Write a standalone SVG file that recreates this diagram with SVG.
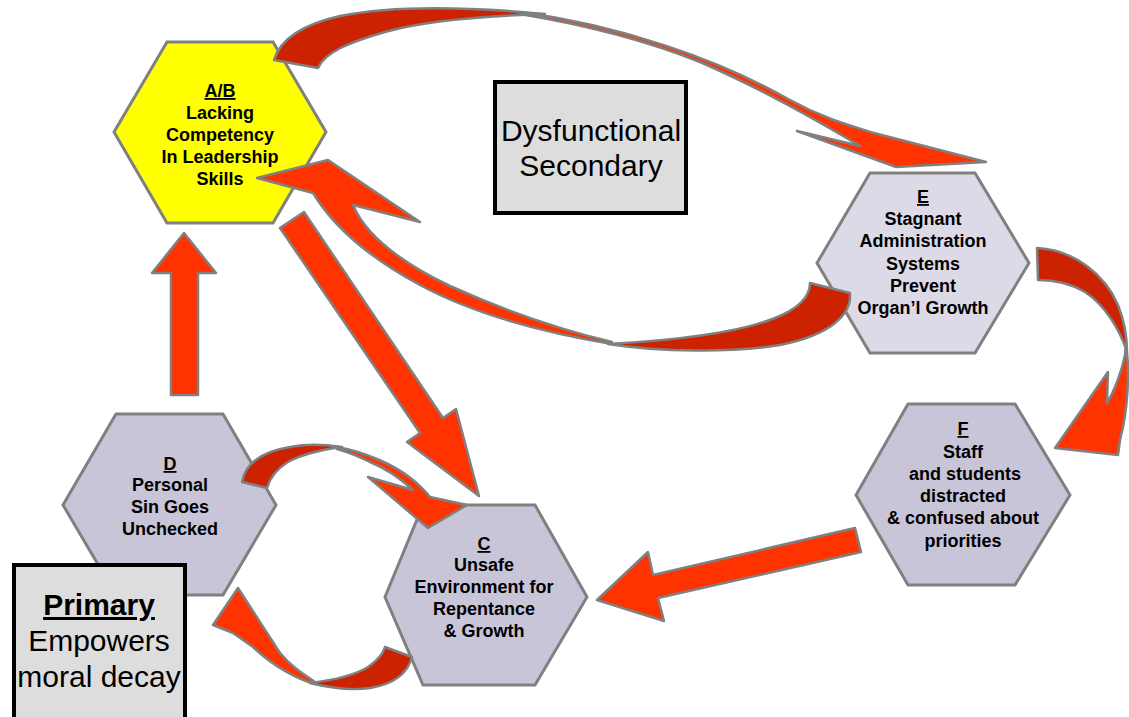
<svg xmlns="http://www.w3.org/2000/svg" width="1129" height="717" viewBox="0 0 1129 717">
<style>
.hex{stroke:#808080;stroke-width:3;stroke-linejoin:miter}
.lav{fill:#C9C5D9}
.lite{fill:#DCDAE7}
.yel{fill:#FFFF00}
.t{font-family:"Liberation Sans",Arial,sans-serif;font-weight:bold;font-size:18px;fill:#000;text-anchor:middle}
.u{text-decoration:underline}
.box{fill:#DDDDDD;stroke:#000;stroke-width:4}
.bt{font-family:"Liberation Sans",Arial,sans-serif;font-size:30px;fill:#000;text-anchor:middle}
.dk{fill:#CC2200;stroke:#808080;stroke-width:2.5;stroke-linejoin:round}
.br{fill:#FF3300;stroke:#808080;stroke-width:2.5;stroke-linejoin:round}
</style>
<rect width="1129" height="717" fill="#FFFFFF"/>

<g id="node-AB">
<polygon class="hex yel" points="167,42 273,42 326,132 273,223 167,223 114,132"/>
<text class="t" x="220" y="97"><tspan class="u">A/B</tspan></text>
<text class="t" x="220" y="119">Lacking</text>
<text class="t" x="220" y="141">Competency</text>
<text class="t" x="220" y="163">In Leadership</text>
<text class="t" x="220" y="185">Skills</text>
</g>

<g id="node-E">
<polygon class="hex lite" points="870,173 975,173 1029,263 975,353 870,353 817,263"/>
<text class="t" x="923" y="203"><tspan class="u">E</tspan></text>
<text class="t" x="923" y="225">Stagnant</text>
<text class="t" x="923" y="247">Administration</text>
<text class="t" x="923" y="270">Systems</text>
<text class="t" x="923" y="292">Prevent</text>
<text class="t" x="923" y="314">Organ’l Growth</text>
</g>

<g id="node-F">
<polygon class="hex lav" points="908,404 1015,404 1070,495 1015,585 908,585 856,495"/>
<text class="t" x="963" y="435"><tspan class="u">F</tspan></text>
<text class="t" x="963" y="458">Staff</text>
<text class="t" x="965" y="480">and students</text>
<text class="t" x="963" y="502">distracted</text>
<text class="t" x="963" y="524">&amp; confused about</text>
<text class="t" x="963" y="547">priorities</text>
</g>

<g id="node-D">
<polygon class="hex lav" points="116,414 223,414 276,505 223,595 116,595 63,505"/>
<text class="t" x="170" y="470"><tspan class="u">D</tspan></text>
<text class="t" x="170" y="491">Personal</text>
<text class="t" x="170" y="513">Sin Goes</text>
<text class="t" x="170" y="535">Unchecked</text>
</g>

<g id="node-C">
<polygon class="hex lav" points="423,505 535,505 587,597 535,685 423,685 385,597"/>
<text class="t" x="484" y="550"><tspan class="u">C</tspan></text>
<text class="t" x="484" y="571">Unsafe</text>
<text class="t" x="484" y="593">Environment for</text>
<text class="t" x="484" y="615">Repentance</text>
<text class="t" x="484" y="637">&amp; Growth</text>
</g>

<g id="label-secondary">
<rect class="box" x="495" y="82" width="191" height="131"/>
<text class="bt" x="591" y="141">Dysfunctional</text>
<text class="bt" x="591" y="176">Secondary</text>
</g>

<g id="label-primary">
<rect class="box" x="14" y="565" width="171" height="160"/>
<text class="bt" x="99" y="615" font-weight="bold"><tspan class="u">Primary</tspan></text>
<text class="bt" x="99" y="651">Empowers</text>
<text class="bt" x="99" y="687">moral decay</text>
</g>

<g id="connectors">
<!-- A/B to E (top arc) -->
<path class="dk" d="M274,60 C280,40 300,25 340,16 C390,6 460,6 545,14 C480,16 420,22 385,32 C350,42 325,52 318,68 Z"/>
<path class="br" d="M520,12 C620,25 720,60 790,100 C830,122 860,128 874,133 L986,162 L896,167 L797,131 L860,146 C820,122 760,88 700,62 C640,38 580,24 520,14 Z"/>
<!-- E to A/B (long lower arc) -->
<path class="dk" d="M810,283 L850,293 C852,315 830,335 780,345 C730,353 660,352 608,344 C680,340 740,332 775,318 C800,308 810,296 810,283 Z"/>
<path class="br" d="M612,344 C540,332 470,312 420,285 C370,258 333,226 313,193 L257,178 L328,160 L420,222 L353,205 C366,236 400,262 450,286 C510,313 570,332 612,342 Z"/>
<!-- E to F -->
<path class="dk" d="M1037,248 C1075,250 1105,275 1118,305 C1124,320 1127,335 1127,352 C1120,330 1105,305 1085,292 C1070,283 1052,280 1038,280 Z"/>
<path class="br" d="M1126,345 C1130,370 1128,410 1120,440 L1118,455 L1055,448 L1108,372 L1107,403 C1115,390 1122,370 1125,355 Z"/>
<!-- F to C -->
<path class="br" d="M855,528 L861,552 L658,598 L664,621 L597,600 L648,552 L653,575 Z"/>
<!-- A/B to C -->
<path class="br" d="M280,228 L304,212 L443,418 L456,409 L479,496 L407,442 L420,433 Z"/>
<!-- D to A/B -->
<path class="br" d="M171,395 L171,273 L152,273 L184,233 L216,273 L198,273 L198,395 Z"/>
<!-- D to C (upper arc) -->
<path class="dk" d="M242,482 C245,465 260,452 290,447 C305,444 322,444 342,447 C320,450 300,455 288,462 C278,468 270,478 267,488 Z"/>
<path class="br" d="M337,447 C365,452 395,465 413,480 C420,486 426,492 430,497 L467,505 L428,528 L368,477 L413,490 C400,478 385,468 370,462 C360,457 348,452 337,449 Z"/>
<!-- C to D (lower arc) -->
<path class="dk" d="M385,647 L412,657 C408,672 395,684 370,688 C350,691 330,688 310,683 C335,680 355,675 368,667 C378,660 383,654 385,647 Z"/>
<path class="br" d="M315,684 C300,680 275,668 253,647 L233,633 L213,625 L238,588 L280,653 C290,665 300,672 315,682 Z"/>
</g>
</svg>
